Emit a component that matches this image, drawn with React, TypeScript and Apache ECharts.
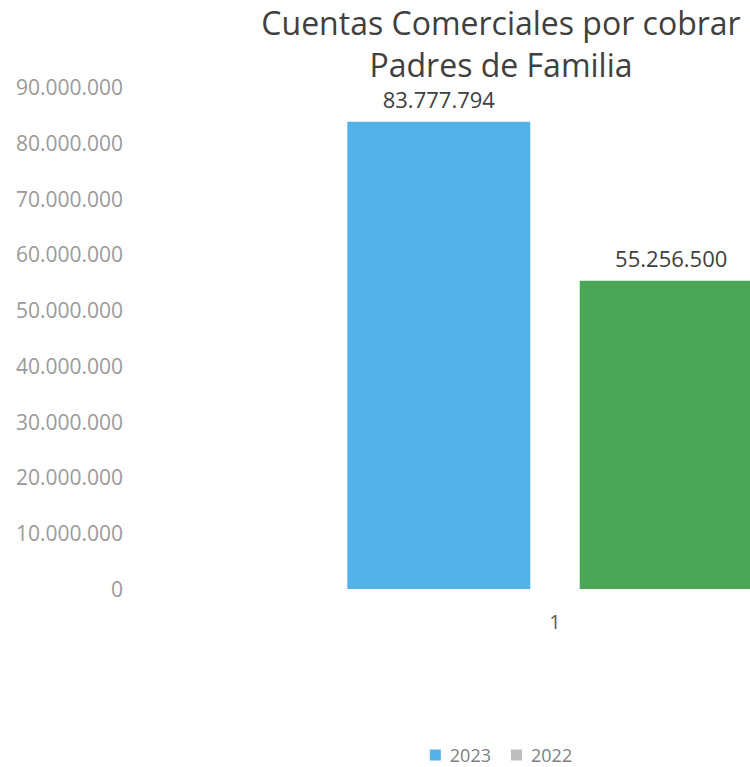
import React, { useEffect, useRef } from "react";
import * as echarts from "echarts";

const categories = ["1"];
const seriesNames = ["2023", "2022"];
const values2023 = [83777794];
const values2022 = [55256500];
const yTicks = { min: 0, max: 90000000, interval: 10000000 };

const fmt = (v: number) =>
  Math.round(v)
    .toString()
    .replace(/\B(?=(\d{3})+(?!\d))/g, ".");

const FONT = "'Open Sans', sans-serif";

export default function App() {
  const ref = useRef<HTMLDivElement>(null);
  useEffect(() => {
    if (!ref.current) return;
    const chart = echarts.init(ref.current, undefined, { renderer: "svg" });
    chart.setOption({
      animation: false,
      backgroundColor: "#ffffff",
      title: {
        text: "Cuentas Comerciales por cobrar\nPadres de Familia",
        left: "center",
        top: 1,
        padding: 0,
        textStyle: {
          fontFamily: FONT,
          fontSize: 32,
          lineHeight: 42,
          fontWeight: "normal",
          color: "#404040",
        },
      },
      legend: {
        bottom: -2,
        left: "center",
        itemWidth: 11,
        itemHeight: 11,
        itemGap: 20,
        icon: "rect",
        textStyle: {
          fontFamily: FONT,
          fontSize: 18,
          color: "#808080",
          padding: [0, 0, 0, 4],
        },
        data: [
          { name: seriesNames[0] },
          { name: seriesNames[1], itemStyle: { color: "#bdbdbd" } },
        ],
      },
      grid: { left: 133, right: 25, top: 87, bottom: 178 },
      xAxis: {
        type: "category",
        data: categories,
        axisLine: { show: false },
        axisTick: { show: false },
        axisLabel: {
          fontFamily: FONT,
          fontSize: 20,
          color: "#595959",
          margin: 22,
        },
      },
      yAxis: {
        type: "value",
        min: yTicks.min,
        max: yTicks.max,
        interval: yTicks.interval,
        splitLine: { show: false },
        axisLine: { show: false },
        axisTick: { show: false },
        axisLabel: {
          fontFamily: FONT,
          fontSize: 21,
          color: "#9a9a9a",
          margin: 10,
          formatter: (v: number) => fmt(v),
        },
      },
      series: [
        {
          name: seriesNames[0],
          type: "bar",
          data: values2023,
          barWidth: 183,
          barGap: "27%",
          itemStyle: { color: "#55b2e8" },
          label: {
            show: true,
            position: "top",
            distance: 11,
            fontFamily: FONT,
            fontSize: 22,
            lineHeight: 24,
            color: "#404040",
            formatter: (p: any) => fmt(p.value),
          },
        },
        {
          name: seriesNames[1],
          type: "bar",
          data: values2022,
          barWidth: 183,
          itemStyle: { color: "#4ca658" },
          label: {
            show: true,
            position: "top",
            distance: 11,
            fontFamily: FONT,
            fontSize: 22,
            lineHeight: 24,
            color: "#404040",
            formatter: (p: any) => fmt(p.value),
          },
        },
      ],
    });
    return () => chart.dispose();
  }, []);
  return (
    <div
      style={{
        position: "absolute",
        left: 0,
        top: 0,
        width: 750,
        height: 767,
        overflow: "hidden",
        background: "#fff",
      }}
    >
      <div ref={ref} style={{ width: 1002, height: 767 }} />
    </div>
  );
}
